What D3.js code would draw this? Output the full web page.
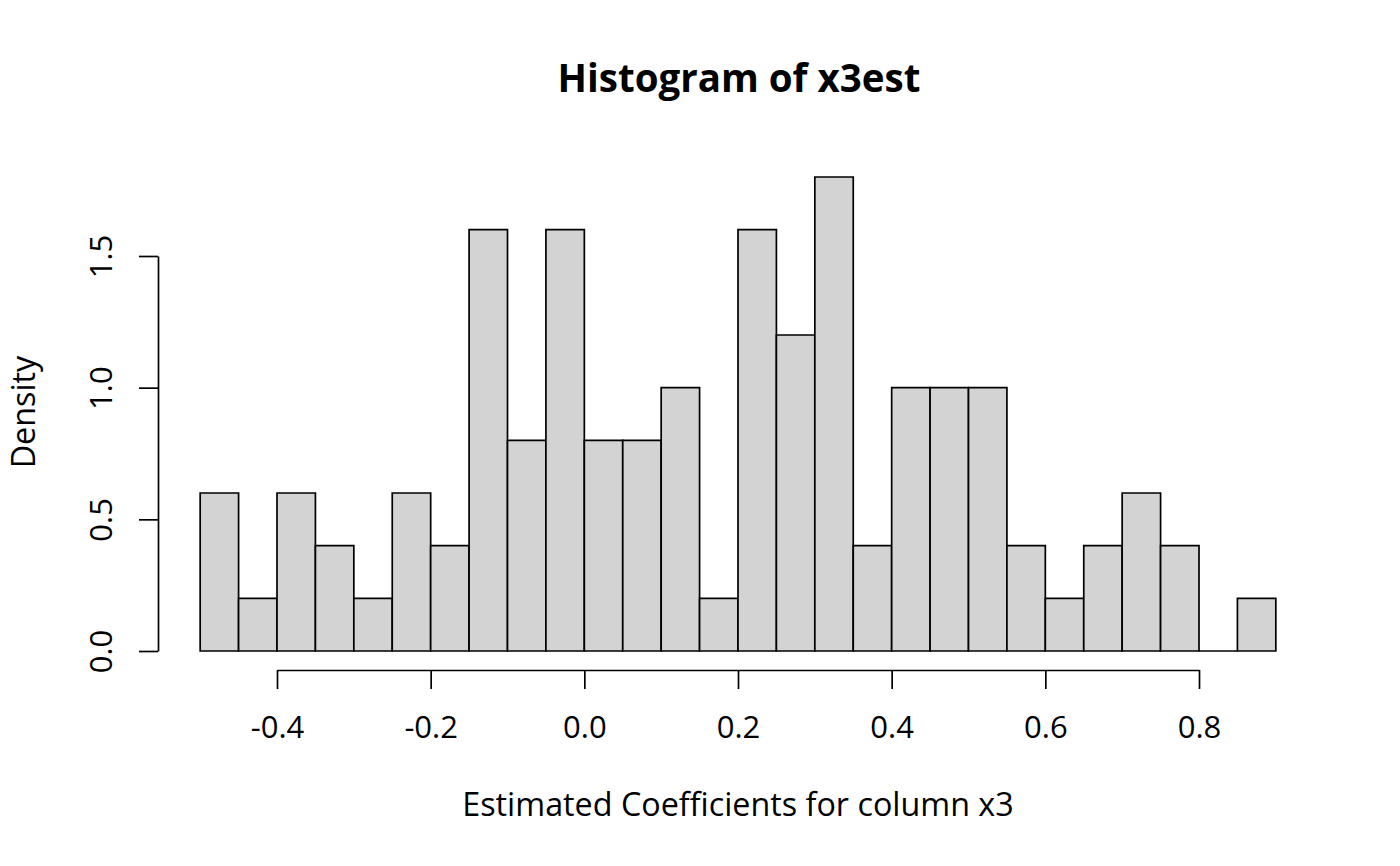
<!DOCTYPE html>
<html><head><meta charset="utf-8">
<script src="https://cdn.jsdelivr.net/npm/d3@7"></script>
<style>body{margin:0;background:#fff}svg{display:block}text{font-family:"Open Sans",sans-serif;fill:#000}</style>
</head><body>
<svg id="c" width="1400" height="866"></svg>
<script>
const binStart = -0.5, binWidth = 0.05;
const densities = [0.6,0.2,0.6,0.4,0.2,0.6,0.4,1.6,0.8,1.6,0.8,0.8,1.0,0.2,1.6,1.2,1.8,0.4,1.0,1.0,1.0,0.4,0.2,0.4,0.6,0.4,0.0,0.2];
const xTicks = [-0.4,-0.2,0.0,0.2,0.4,0.6,0.8];
const yTicks = [0.0,0.5,1.0,1.5];
const title = "Histogram of x3est", xLabel = "Estimated Coefficients for column x3", yLabel = "Density";

const bins = densities.map((d,i)=>({x0: binStart + i*binWidth, x1: binStart+(i+1)*binWidth, d}));
const svg = d3.select("#c");
const x = d3.scaleLinear().domain([-0.4,0.8]).range([277,1199]);
const y = d3.scaleLinear().domain([0,1.5]).range([651,256]);

svg.append("g").selectAll("path").data(bins).join("path")
  .attr("d",b=>{const p=d3.path(); p.rect(x(b.x0), y(b.d), x(b.x1)-x(b.x0), y(0)-y(b.d)); return p.toString();})
  .attr("fill","#d3d3d3").attr("stroke","#000").attr("stroke-width",1.7);

const fmt = v => d3.format(".1f")(v).replace("\u2212","-");
const gx = svg.append("g").attr("transform","translate(0,670)")
  .call(d3.axisBottom(x).tickValues(xTicks).tickFormat(fmt).tickSize(19).tickSizeOuter(0));
gx.select(".domain").attr("stroke-width",1.7);
gx.selectAll(".tick line").attr("stroke-width",1.7);
gx.selectAll("text").attr("font-size",31).attr("font-family","Open Sans").attr("fill","#000")
  .attr("y",68).attr("dy",0);

const gy = svg.append("g").attr("transform","translate(158,0)")
  .call(d3.axisLeft(y).tickValues(yTicks).tickFormat(fmt).tickSize(19).tickSizeOuter(0));
gy.select(".domain").attr("stroke-width",1.7);
gy.selectAll(".tick line").attr("stroke-width",1.7);
gy.selectAll("text").attr("font-size",31).attr("font-family","Open Sans").attr("fill","#000")
  .attr("x",0).attr("y",0).attr("dy",0)
  .attr("text-anchor","middle")
  .attr("transform","translate(-46,0) rotate(-90)");

svg.append("text").attr("x",739).attr("y",92).attr("text-anchor","middle")
  .attr("font-size",38.5).attr("font-weight","bold").text(title);
svg.append("text").attr("x",738).attr("y",816).attr("text-anchor","middle")
  .attr("font-size",32.3).text(xLabel);
svg.append("text").attr("transform","translate(35,412) rotate(-90)").attr("text-anchor","middle")
  .attr("font-size",32.3).text(yLabel);
</script>
</body></html>
